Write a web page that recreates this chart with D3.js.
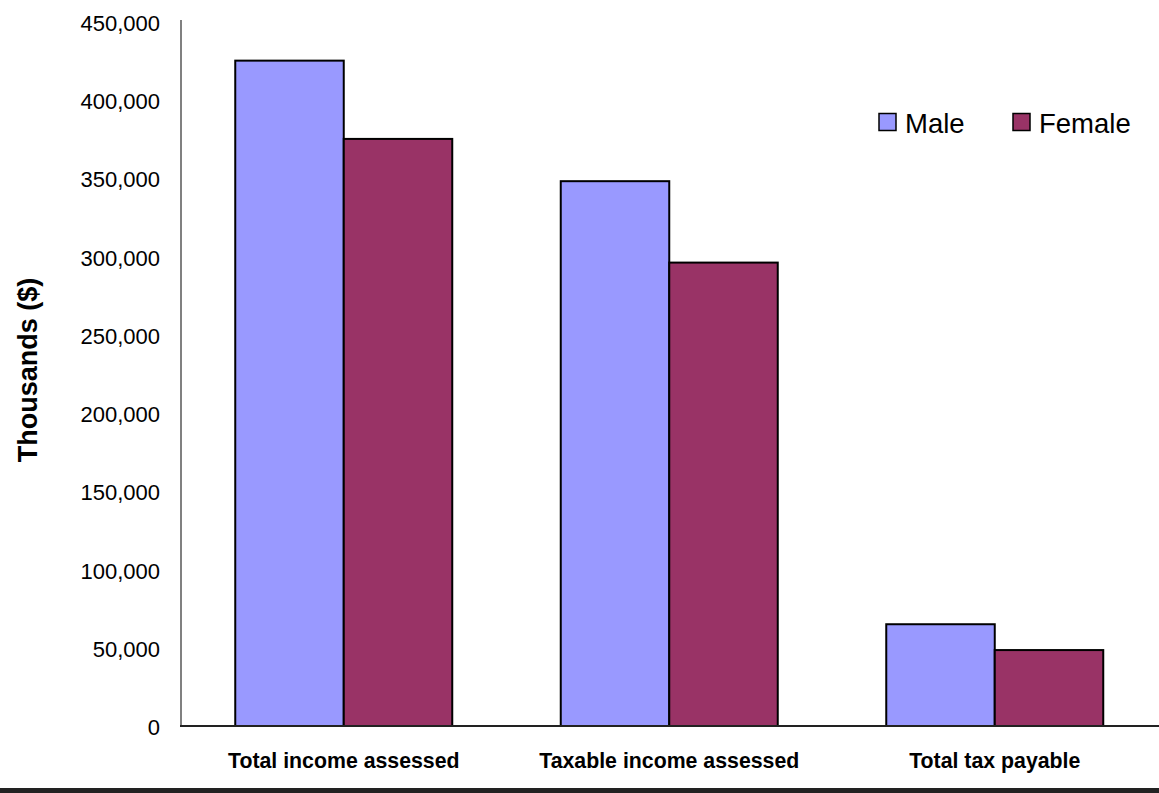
<!DOCTYPE html>
<html><head><meta charset="utf-8">
<script src="https://cdn.jsdelivr.net/npm/d3@7/dist/d3.min.js"></script>
<style>html,body{margin:0;padding:0;background:#fff;}svg{display:block;}</style>
</head><body>
<script>
const categories = ["Total income assessed", "Taxable income assessed", "Total tax payable"];
const seriesNames = ["Male", "Female"];
const maleValues = [425000, 348000, 65000];
const femaleValues = [375000, 296000, 48500];
const yTicks = [0, 50000, 100000, 150000, 200000, 250000, 300000, 350000, 400000, 450000];
const colors = ["#9999FF", "#993366"];

const W = 1159, H = 793;
const svg = d3.select("body").append("svg").attr("width", W).attr("height", H);
const font = "Liberation Sans, Arial, sans-serif";

const x0 = d3.scaleBand().domain(categories).range([181, 1157.5]).paddingInner(0).paddingOuter(0);
const barW = x0.bandwidth() / 3;
const y = d3.scaleLinear().domain([0, 450000]).range([726, 21.5]);

const data = categories.map((c, i) => ({cat: c, vals: [maleValues[i], femaleValues[i]]}));

// y axis line
svg.append("line").attr("x1", 181).attr("x2", 181).attr("y1", 20).attr("y2", y(0))
  .attr("stroke", "#808080").attr("stroke-width", 2);

// y tick labels
const yAxis = d3.axisLeft(y).tickValues(yTicks).tickSize(0).tickPadding(0)
  .tickFormat(d => d3.format(",")(d));
const ya = svg.append("g").attr("transform", "translate(160,0)").call(yAxis);
ya.select(".domain").remove();
ya.selectAll("text").attr("font-family", font).attr("font-size", 22).attr("fill", "#000")
  .attr("dy", "0.4em");

// bars
const g = svg.append("g");
data.forEach(d => {
  const cx = x0(d.cat) + x0.bandwidth() / 2;
  d.vals.forEach((v, j) => {
    g.append("rect")
      .attr("x", cx - barW + j * barW)
      .attr("y", y(v))
      .attr("width", barW)
      .attr("height", y(0) - y(v))
      .attr("fill", colors[j]).attr("stroke", "#000").attr("stroke-width", 2);
  });
});

// x axis baseline
svg.append("line").attr("x1", 180).attr("x2", W).attr("y1", y(0)).attr("y2", y(0))
  .attr("stroke", "#222").attr("stroke-width", 2);

// category labels
const xAxis = d3.axisBottom(x0).tickSize(0).tickPadding(0);
const xa = svg.append("g").attr("transform", `translate(0,${y(0)})`).call(xAxis);
xa.select(".domain").remove();
xa.selectAll("text").attr("font-family", font).attr("font-size", 21.3).attr("font-weight", "bold")
  .attr("fill", "#000").attr("dy", 0).attr("y", 41.5);

// y title
svg.append("text").attr("transform", "translate(37,370) rotate(-90)")
  .attr("text-anchor", "middle").attr("font-family", font).attr("font-size", 27)
  .attr("font-weight", "bold").text("Thousands ($)");

// legend
const lg = svg.append("g");
const legX = [879, 1013];
seriesNames.forEach((n, j) => {
  lg.append("rect").attr("x", legX[j]).attr("y", 113.5).attr("width", 17).attr("height", 17)
    .attr("fill", colors[j]).attr("stroke", "#000").attr("stroke-width", 1.5);
  lg.append("text").attr("x", legX[j] + 26).attr("y", 133).attr("font-family", font)
    .attr("font-size", 27.5).attr("fill", "#000").text(n);
});

// bottom border band
svg.append("rect").attr("x", 0).attr("y", 788).attr("width", W).attr("height", 5).attr("fill", "#222");
</script>
</body></html>
